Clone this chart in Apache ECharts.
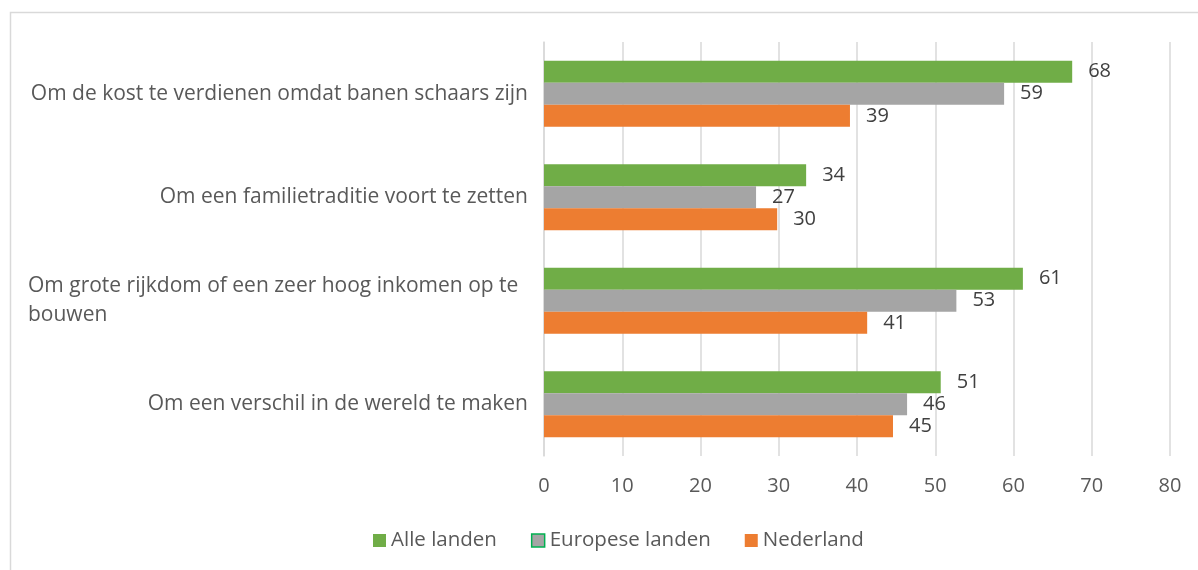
<!DOCTYPE html>
<html>
<head>
<meta charset="utf-8">
<script src="https://cdn.jsdelivr.net/npm/echarts@6/dist/echarts.min.js"></script>
<style>
  html, body { margin: 0; padding: 0; background: #fff; }
  #chart { width: 1198px; height: 570px; }
</style>
</head>
<body>
<div id="chart"></div>
<script>
const categories = [
  'Om de kost te verdienen omdat banen schaars zijn',
  'Om een familietraditie voort te zetten',
  'Om grote rijkdom of een zeer hoog inkomen op te bouwen',
  'Om een verschil in de wereld te maken'
]
const seriesNames = ['Alle landen', 'Europese landen', 'Nederland']
const alleLanden = [67.5, 33.5, 61.2, 50.7]
const europeseLanden = [58.8, 27.1, 52.7, 46.4]
const nederland = [39.1, 29.8, 41.3, 44.6]
const xTicks = [0, 80, 10] // min, max, interval

const colors = ['#70AD47', '#A5A5A5', '#ED7D31']
const font = 'Open Sans'
const labelSize = 21
const labelWidth = 500

// word wrap like excel: long labels break into lines, left aligned
const ctx = document.createElement('canvas').getContext('2d')
ctx.font = labelSize + 'px "' + font + '"'
function wrapLabel(text) {
  if (ctx.measureText(text).width <= labelWidth) return text
  let lines = []
  let cur = ''
  text.split(' ').forEach(w => {
    let next = cur ? cur + ' ' + w : w
    if (ctx.measureText(next).width > labelWidth && cur) {
      lines.push(cur)
      cur = w
    } else {
      cur = next
    }
  })
  lines.push(cur)
  return lines.map(l => '{l|' + l + '}').join('\n')
}

const chart = echarts.init(document.getElementById('chart'), null, { renderer: 'canvas' })

function barSeries(name, data, color) {
  return {
    name: name,
    type: 'bar',
    data: data,
    barGap: '0%',
    barCategoryGap: '36%',
    itemStyle: { color: color },
    label: {
      show: true,
      position: 'right',
      distance: 16,
      color: '#404040',
      fontFamily: font,
      fontSize: 20,
      formatter: p => Math.round(p.value)
    }
  }
}

const options = {
  animation: false,
  textStyle: { fontFamily: font },
  graphic: [
    {
      type: 'rect',
      shape: { x: 10.5, y: 12.5, width: 1300, height: 700 },
      style: { fill: 'none', stroke: '#D9D9D9', lineWidth: 1.5 }
    }
  ],
  grid: {
    left: 544,
    right: 28,
    top: 42,
    bottom: 114,
    containLabel: false
  },
  legend: {
    bottom: 14,
    left: 368,
    itemWidth: 13,
    itemHeight: 13,
    itemGap: 34,
    icon: 'rect',
    textStyle: { color: '#595959', fontSize: 20.5, fontFamily: font },
    data: [
      { name: seriesNames[0] },
      { name: seriesNames[1], itemStyle: { borderColor: '#00B050', borderWidth: 1.5 } },
      { name: seriesNames[2] }
    ]
  },
  xAxis: {
    type: 'value',
    min: xTicks[0],
    max: xTicks[1],
    interval: xTicks[2],
    axisLine: { show: false },
    axisTick: { show: false },
    splitLine: { lineStyle: { color: '#D9D9D9', width: 1.5 } },
    axisLabel: { color: '#595959', fontSize: 20, margin: 20, fontFamily: font }
  },
  yAxis: {
    type: 'category',
    inverse: true,
    data: categories,
    axisLine: { lineStyle: { color: '#D9D9D9', width: 1.5 } },
    axisTick: { show: false },
    axisLabel: {
      color: '#595959',
      fontSize: labelSize,
      fontFamily: font,
      margin: 16,
      lineHeight: 29,
      formatter: wrapLabel,
      rich: {
        l: {
          width: labelWidth,
          align: 'left',
          color: '#595959',
          fontSize: labelSize,
          fontFamily: font,
          lineHeight: 29
        }
      }
    }
  },
  series: [
    barSeries(seriesNames[0], alleLanden, colors[0]),
    barSeries(seriesNames[1], europeseLanden, colors[1]),
    barSeries(seriesNames[2], nederland, colors[2])
  ]
}

chart.setOption(options)
</script>
</body>
</html>
